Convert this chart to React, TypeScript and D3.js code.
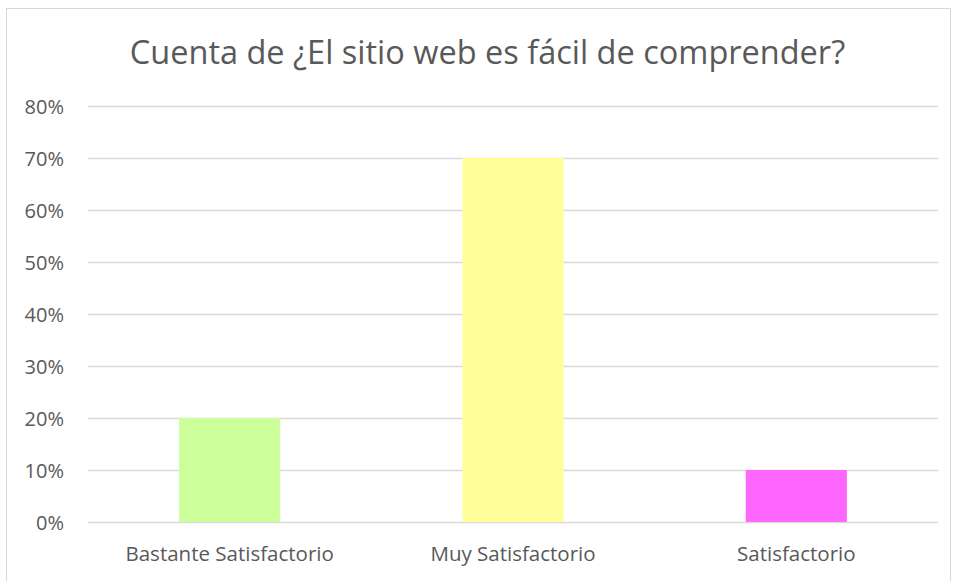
import React from "react";
import * as d3 from "d3";

const categories = ["Bastante Satisfactorio", "Muy Satisfactorio", "Satisfactorio"];
const values = [0.2, 0.7, 0.1];
const colors = ["#CCFF99", "#FFFF99", "#FF66FF"];
const yTicks = [0, 0.1, 0.2, 0.3, 0.4, 0.5, 0.6, 0.7, 0.8];
const title = "Cuenta de ¿El sitio web es fácil de comprender?";

const W = 953;
const H = 581;
const plot = { left: 88, right: 938, top: 106, bottom: 522 };

export default function App() {
  const x = d3
    .scaleBand<string>()
    .domain(categories)
    .range([plot.left, plot.right])
    .paddingInner(0.643)
    .paddingOuter(0.3215);
  const y = d3.scaleLinear().domain([0, 0.8]).range([plot.bottom, plot.top]);
  const fmt = d3.format(".0%");
  const font = "'Open Sans', sans-serif";
  const textColor = "#595959";

  return (
    <svg
      width={W}
      height={H}
      style={{ position: "fixed", left: 0, top: 0, display: "block", background: "#fff" }}
    >
      <rect x={6.5} y={8.5} width={944} height={600} fill="#fff" stroke="#D9D9D9" strokeWidth={1} />
      <text
        x={487.5}
        y={64}
        textAnchor="middle"
        fontFamily={font}
        fontSize={32.5}
        fill={textColor}
      >
        {title}
      </text>
      {yTicks.map((t) => (
        <g key={t}>
          <line
            x1={plot.left}
            x2={plot.right}
            y1={Math.round(y(t)) + 0.5}
            y2={Math.round(y(t)) + 0.5}
            stroke="#D9D9D9"
            strokeWidth={1.5}
          />
          <text
            x={64}
            y={y(t) + 7.5}
            textAnchor="end"
            fontFamily={font}
            fontSize={20}
            fill={textColor}
          >
            {fmt(t)}
          </text>
        </g>
      ))}
      {categories.map((c, i) => (
        <g key={c}>
          <rect
            x={x(c)}
            y={y(values[i])}
            width={x.bandwidth()}
            height={y(0) - y(values[i])}
            fill={colors[i]}
          />
          <text
            x={(x(c) as number) + x.bandwidth() / 2}
            y={561}
            textAnchor="middle"
            fontFamily={font}
            fontSize={20.5}
            fill={textColor}
          >
            {c}
          </text>
        </g>
      ))}
    </svg>
  );
}
